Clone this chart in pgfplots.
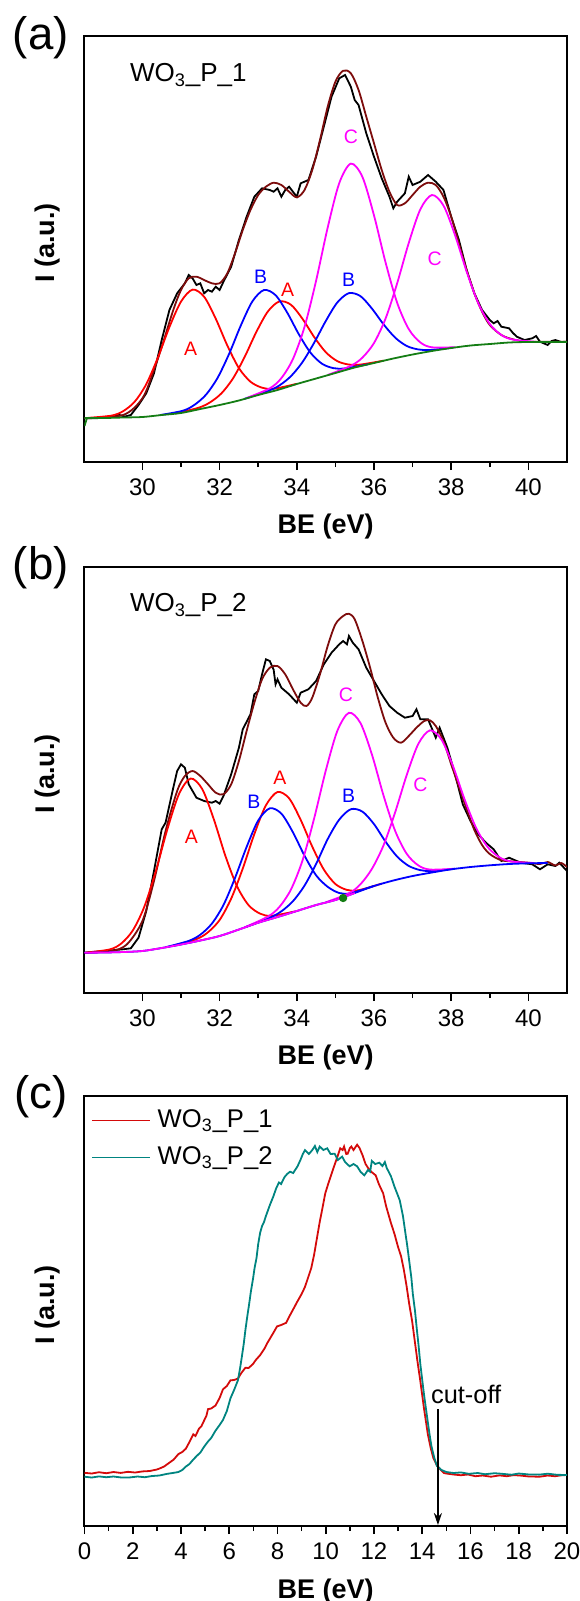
\documentclass[border=0pt]{standalone}
\usepackage{fontspec}
\setmainfont{Liberation Sans}
\usepackage{pgfplots}
\pgfplotsset{compat=1.18}
\usetikzlibrary{arrows.meta}

\definecolor{envBrown}{RGB}{125,12,12}
\definecolor{bgGreen}{RGB}{20,125,20}
\definecolor{pRed}{RGB}{255,0,0}
\definecolor{pBlue}{RGB}{0,0,255}
\definecolor{pMag}{RGB}{255,0,255}
\definecolor{cRed}{RGB}{212,10,10}
\definecolor{cTeal}{RGB}{0,132,128}

\pgfplotsset{
  xpsframe/.style={
    scale only axis, width=241.25pt,
    axis line style={line width=1pt},
    xtick pos=bottom, ytick=\empty,
    tick align=outside,
    major tick length=4pt, minor tick length=2.5pt,
    every tick/.style={black, line width=0.8pt},
    minor x tick num=1,
    /pgf/number format/assume math mode=true,
    xticklabel style={font=\fontsize{12}{14}\selectfont, anchor=center, yshift=-8.5pt},
    xlabel={BE (eV)},
    xlabel style={at={(axis description cs:0.5,-0.152)}, anchor=center,
      font=\fontsize{13.5}{16}\selectfont\bfseries},
    ylabel={I (a.u.)},
    ylabel style={at={(axis description cs:-0.0767,0.514)}, anchor=center,
      font=\fontsize{13.5}{16}\selectfont\bfseries},
    every axis plot/.append style={line width=0.9pt},
  },
}
\tikzset{
  peak/.style={font=\fontsize{9.75}{11}\selectfont, anchor=center, inner sep=0pt},
  tag/.style={font=\fontsize{13}{15}\selectfont, anchor=base west, inner sep=0pt},
}

\begin{document}
\begin{tikzpicture}
\path[use as bounding box] (0pt,0pt) rectangle (289.5pt,-800.5pt);

% ---------------- (a) ----------------
\begin{axis}[xpsframe, height=213pt, at={(42.25pt,-231pt)}, anchor=south west,
  xmin=28.5, xmax=41, ymin=0, ymax=426, xtick={30,32,...,40}]
% measured spectrum
\addplot[black, sharp plot] coordinates {
(28.5,43.7)(29.0,44)(29.4,47)(29.55,45.5)(29.7,47)(29.9,57)(30.1,68.7)(30.3,88.7)
(30.5,122)(30.7,152)(30.9,168.7)(31.1,178.7)(31.2,187)(31.3,183.7)(31.4,177)(31.5,178.7)
(31.6,168.7)(31.7,172)(31.8,170.3)(31.9,175.3)(32.0,172)(32.1,180.3)(32.3,195.3)(32.5,222)
(32.7,245.3)(32.9,265.3)(33.1,273.7)(33.3,272)(33.4,270.3)(33.5,273.7)(33.6,265.3)(33.7,272)
(33.8,275.3)(33.9,270.3)(34.0,265.3)(34.1,278.7)(34.3,282)(34.5,305.3)(34.7,335.3)(34.9,365.3)
(35.1,383.7)(35.25,387)(35.4,375.3)(35.5,362)(35.6,357)(35.8,328.7)(36.0,305.3)(36.2,283.7)
(36.4,265.3)(36.5,253.7)(36.6,260.3)(36.8,268.7)(36.9,285.3)(37.0,277)(37.2,280.3)(37.4,287)
(37.6,280.3)(37.8,272)(38.0,245.3)(38.2,222)(38.4,192)(38.6,168.7)(38.8,152)(39.0,142)
(39.1,138.7)(39.2,141)(39.3,135.3)(39.5,133.7)(39.6,129)(39.7,125.3)(39.9,122)(40.1,123.7)
(40.2,126)(40.3,120.3)(40.5,117)(40.6,121)(40.7,122)(40.85,120)(41.0,120.3)};
% envelope
\addplot[envBrown, smooth] coordinates {
(28.5,43.7)(29.5,47)(30.0,63.7)(30.3,92)(30.5,115)(30.8,152)(31.0,172)(31.2,183.7)
(31.4,185.3)(31.6,182)(31.8,178.7)(32.0,178.7)(32.2,188.7)(32.4,208.7)(32.6,232)(32.8,252)
(33.0,267)(33.2,275.3)(33.4,279.3)(33.6,277)(33.8,270.3)(34.0,264.7)(34.2,272)(34.4,292)
(34.6,322)(34.8,355.3)(35.0,380.3)(35.2,391.3)(35.4,388.7)(35.6,372)(35.8,345.3)(36.0,318.7)
(36.2,292)(36.4,270.3)(36.6,257)(36.8,258.7)(37.0,267)(37.2,275.3)(37.4,279.3)(37.6,277)
(37.8,265.3)(38.0,245.3)(38.2,218.7)(38.4,192)(38.6,168.7)(38.8,150.3)(39.0,137)(39.3,127)
(39.6,122.7)(40.0,120.3)(41.0,120.3)};
% A components
\addplot[pRed, smooth] coordinates {
(28.6,44.2)(29.2,46.4)(29.5,50.8)(29.8,60.3)(30.1,77.8)(30.4,104.3)(30.7,134.9)(31.0,160.4)
(31.3,172.4)(31.6,165.2)(31.9,143.3)(32.2,116.5)(32.5,93.9)(32.8,80.3)(33.1,74.3)(33.4,73.2)(34.0,78.2)};
\addplot[pRed, smooth] coordinates {
(30.85,48.5)(31.45,54.2)(31.75,59.6)(32.05,68.75)(32.35,83.75)(32.65,105.15)(32.95,129.9)(33.25,150.5)
(33.55,160.6)(33.85,157.2)(34.15,143.05)(34.45,125)(34.75,109.85)(35.05,100.85)(35.35,97.45)(35.65,97.45)(36.25,101.35)};
% B components
\addplot[pBlue, smooth] coordinates {
(30.45,46.9)(31.05,51.3)(31.35,57.2)(31.65,67.4)(31.95,84.3)(32.25,108.45)(32.55,136.55)(32.85,160.65)
(33.15,172)(33.45,166.8)(33.75,149.5)(34.05,127.95)(34.35,109.55)(34.65,98.35)(34.95,93.85)(35.25,93.65)(35.85,97.75)};
\addplot[pBlue, smooth] coordinates {
(32.65,63.25)(33.25,70.9)(33.55,76.6)(33.85,85.9)(34.15,100.05)(34.45,119.3)(34.75,140.95)(35.05,159.55)
(35.35,168.85)(35.65,165.85)(35.95,153.25)(36.25,137.55)(36.55,124.3)(36.85,116)(37.15,112.55)(37.45,112.05)(38.05,114.35)};
% C components
\addplot[pMag, smooth] coordinates {
(32.7,64)(33.3,73.7)(33.6,83.9)(33.9,103)(34.2,135.1)(34.5,181.3)(34.8,234.4)(35.1,278.9)
(35.4,298.4)(35.7,285.1)(36.0,246.6)(36.3,199.5)(36.6,159.2)(36.9,132.9)(37.2,119.6)(37.5,114.7)(38.1,114.8)};
\addplot[pMag, smooth] coordinates {
(34.8,87)(35.4,96.2)(35.7,104.4)(36.0,119)(36.3,143.5)(36.6,178.7)(36.9,219)(37.2,252.6)
(37.5,267)(37.8,256.5)(38.1,226.8)(38.4,190.4)(38.7,158.9)(39.0,138)(39.3,127)(39.6,122.4)(40.2,120.2)};
% background
\addplot[bgGreen, smooth] coordinates {
(28.5,44)(29,44)(29.5,44.5)(30,45)(30.5,47)(31,49)(31.5,53)(32,57)(32.5,61.5)(33,67)(33.5,72)
(34,78)(34.5,83.5)(35,89)(35.5,94.5)(36,99)(36.5,103.5)(37,107.5)(37.5,111)(38,114)(38.5,116.5)
(39,118)(39.5,119.5)(40,120)(41,120)};
\addplot[bgGreen, sharp plot] coordinates {(28.5,36)(28.56,43.5)};
\node[tag] at (axis cs:29.67,380.3) {WO\textsubscript{3}\_P\_1};
\node[peak, text=pRed] at (axis cs:31.25,113) {A};
\node[peak, text=pBlue] at (axis cs:33.06,185) {B};
\node[peak, text=pRed] at (axis cs:33.76,172) {A};
\node[peak, text=pBlue] at (axis cs:35.34,182) {B};
\node[peak, text=pMag] at (axis cs:35.4,325.7) {C};
\node[peak, text=pMag] at (axis cs:37.57,203.3) {C};
\end{axis}

% ---------------- (b) ----------------
\begin{axis}[xpsframe, height=213pt, at={(42.25pt,-496.5pt)}, anchor=south west,
  xmin=28.5, xmax=41, ymin=0, ymax=426, xtick={30,32,...,40}]
\addplot[black, sharp plot] coordinates {
(28.5,40.3)(29.5,43.7)(29.7,44.7)(29.9,55.3)(30.1,82)(30.3,122)(30.5,163.7)(30.6,170.3)
(30.8,205.3)(30.9,222)(31.0,228.7)(31.1,225.3)(31.2,208.7)(31.4,195.3)(31.6,192)(31.8,190.3)
(31.9,192)(32.0,189.3)(32.1,197)(32.3,218.7)(32.5,245.3)(32.6,263.7)(32.8,278.7)(32.9,298.7)
(33.0,302)(33.1,318.7)(33.2,333.7)(33.3,332)(33.4,323.3)(33.45,308.7)(33.5,313.7)(33.6,305.3)
(33.8,298.7)(34.0,290.3)(34.1,300.3)(34.3,303.7)(34.5,312)(34.7,328.7)(34.9,340.3)(35.1,348.7)
(35.2,352)(35.3,348.7)(35.35,357)(35.45,350.3)(35.6,343.7)(35.8,325.3)(36.0,312)(36.2,298.7)
(36.4,287)(36.6,280.3)(36.8,275.3)(37.0,277)(37.1,283.7)(37.2,273.7)(37.4,273.7)(37.6,255.3)
(37.7,265.3)(37.9,245.3)(38.1,218.7)(38.3,188.7)(38.5,172)(38.7,158.7)(38.9,150.3)(39.1,143.7)
(39.3,132)(39.5,135.3)(39.8,130.3)(40.1,128.7)(40.3,123.7)(40.5,128.7)(40.7,127)(40.8,130.3)(41.0,122)};
\addplot[envBrown, smooth] coordinates {
(28.5,40.3)(29.2,42)(29.6,48.7)(30.0,72)(30.3,112)(30.6,162)(30.9,202)(31.1,217)
(31.3,222)(31.5,217)(31.7,208.7)(31.9,200.3)(32.1,198.7)(32.3,208.7)(32.5,232)(32.7,262)
(32.9,290.3)(33.1,313.7)(33.3,325.3)(33.5,327)(33.7,318.7)(33.9,303.7)(34.1,290.3)(34.25,287)
(34.4,295.3)(34.6,318.7)(34.8,347)(35.0,368.7)(35.2,377)(35.35,379.3)(35.5,373.7)(35.7,352)
(35.9,325.3)(36.1,295.3)(36.3,270.3)(36.5,255.3)(36.7,250.3)(36.9,257)(37.1,265.3)(37.3,272)
(37.45,272.7)(37.6,267)(37.8,252)(38.0,228.7)(38.2,206)(38.4,184)(38.6,163)(38.8,148)
(39.0,139)(39.3,132.7)(39.7,131.3)(40.0,130.3)(40.3,129)(40.5,131)(40.7,127.5)(40.85,130)(41.0,126)};
\addplot[pRed, smooth] coordinates {
(28.55,40.5)(29.15,43.55)(29.45,49.45)(29.75,62.5)(30.05,86.3)(30.35,122.3)(30.65,164.15)(30.95,199.15)
(31.25,214.5)(31.55,203.95)(31.85,173.75)(32.15,137.15)(32.45,106.85)(32.75,87.9)(33.05,79.35)(33.35,77.2)(33.95,81.6)};
\addplot[pRed, smooth] coordinates {
(30.8,47.3)(31.4,53.9)(31.7,60.8)(32.0,73)(32.3,94.4)(32.6,124.45)(32.9,158.95)(33.2,187.7)
(33.5,201)(33.8,194.7)(34.1,173.2)(34.4,146.4)(34.7,123.5)(35.0,109)(35.3,103.1)(35.6,102.8)(36.2,109.4)};
\addplot[pBlue, smooth] coordinates {
(30.6,45.8)(31.2,52.1)(31.5,58.3)(31.8,69.4)(32.1,88)(32.4,115.1)(32.7,146.1)(33.0,172.5)
(33.3,184.7)(33.6,179.4)(33.9,160.7)(34.2,137.3)(34.5,117.7)(34.8,106.2)(35.1,100)(35.4,99.8)(36.0,107.1)};
\addplot[pBlue, smooth] coordinates {
(32.7,66.3)(33.3,75.2)(33.6,81.7)(33.9,91.8)(34.2,107.4)(34.5,129)(34.8,153.9)(35.1,173.4)
(35.4,183.8)(35.7,181.4)(36.0,168.9)(36.3,151.3)(36.6,136.4)(36.9,127.1)(37.2,122.9)(37.5,122)(38.1,124.3)};
\addplot[pMag, smooth] coordinates {
(32.65,65.7)(33.25,76.4)(33.55,86.1)(33.85,103.6)(34.15,132.8)(34.45,174.7)(34.75,222.3)(35.05,262.1)
(35.35,280.2)(35.65,269.9)(35.95,238)(36.25,197.05)(36.55,161.95)(36.85,139.05)(37.15,127.55)(37.45,123.45)(38.05,124.2)};
\addplot[pMag, smooth] coordinates {
(34.75,90.7)(35.35,99.7)(35.65,108.8)(35.95,124.4)(36.25,147.95)(36.55,180.95)(36.85,218.25)(37.15,249.25)
(37.45,262.65)(37.75,253.3)(38.05,226.55)(38.35,193.3)(38.65,164.7)(38.95,145.75)(39.25,135.75)(39.55,131.55)(40.15,130)};
% background (seen through the component colours)
\addplot[pBlue, smooth] coordinates {
(28.5,40.3)(29,40.5)(29.5,41)(30,42)(30.5,45)(31,48.5)(31.5,52.5)(32,57)(32.5,63.5)(33,70.3)
(33.5,76)(34,82)(34.5,88)(35,93)(35.5,100)(36,107)(36.5,112.5)(37,117)(37.5,120.5)(38,123.7)
(38.5,126)(39,127.7)(39.5,129)(40,129.7)(40.5,130)};
\addplot[pMag, smooth] coordinates {
(28.5,40.3)(29,40.5)(29.5,41)(30,42)(30.5,45)(31,48.5)(31.5,52.5)(32,57)(32.5,63.5)(33,70.3)
(33.5,76)(34,82)(34.5,88)(35,93)(35.5,100)};
\addplot[bgGreen, only marks, mark=*, mark size=1.6pt] coordinates {(35.2,95)};
\node[tag] at (axis cs:29.67,381.3) {WO\textsubscript{3}\_P\_2};
\node[peak, text=pRed] at (axis cs:31.27,156.7) {A};
\node[peak, text=pBlue] at (axis cs:32.89,191.7) {B};
\node[peak, text=pRed] at (axis cs:33.56,215.7) {A};
\node[peak, text=pBlue] at (axis cs:35.34,197.7) {B};
\node[peak, text=pMag] at (axis cs:35.27,298.3) {C};
\node[peak, text=pMag] at (axis cs:37.2,208.3) {C};
\end{axis}

% ---------------- (c) ----------------
\begin{axis}[xpsframe, height=215pt, at={(42.25pt,-763pt)}, anchor=south west,
  xmin=0, xmax=20, ymin=0, ymax=430, xtick={0,2,...,20},
  legend cell align=left,
  legend style={at={(axis description cs:0.0135,0.972)}, anchor=north west,
    draw=none, fill=none, inner sep=0pt, row sep=6.5pt, column sep=3.5pt,
    font=\fontsize{12.8}{15}\selectfont,
    nodes={inner sep=0pt, text height=9.5pt, text depth=2.5pt}},
  legend image code/.code={\draw[#1, line width=0.9pt] (0pt,0pt) -- (28.75pt,0pt);}]
\addplot[cRed, sharp plot] coordinates {
(0,53.2)(0.3,52.5)(0.6,53.8)(0.9,52.8)(1.2,54)(1.5,53.1)(1.8,54.2)(2.1,53.5)(2.4,54.6)(2.7,55)
(3.0,56.5)(3.12,57.6)(3.3,59.5)(3.5,63)(3.7,66.5)(3.89,71.9)(4.05,74)(4.2,77.3)(4.35,84)(4.51,91.7)
(4.6,90)(4.74,97.1)(4.85,100)(4.97,106.1)(5.05,110)(5.12,116.9)(5.25,117.5)(5.43,120.5)(5.6,128)
(5.74,136.7)(5.9,140)(6.05,145.7)(6.2,146)(6.36,147.5)(6.5,153)(6.67,158.3)(6.8,158)(6.98,161.9)
(7.1,166)(7.28,170.9)(7.45,177)(7.59,183.5)(7.8,192)(7.98,199.6)(8.15,201)(8.36,203.2)(8.5,210)
(8.67,217.6)(8.83,224.8)(9.0,232)(9.14,239.2)(9.29,250)(9.4,258)(9.52,271.6)(9.65,290)(9.75,304)
(9.88,320)(9.98,332.7)(10.1,342)(10.22,350.7)(10.35,360)(10.45,366.9)(10.6,377.7)(10.7,376)
(10.76,379.5)(10.85,372)(10.91,372.3)(11.0,378)(11.06,379.5)(11.15,376)(11.3,381.3)(11.4,378)
(11.53,370.5)(11.65,362)(11.76,357.9)(11.9,354)(12.07,350.7)(12.2,342)(12.38,332.7)(12.5,320)
(12.69,304)(12.85,292)(13.0,278.8)(13.12,270)(13.23,257.2)(13.35,240)(13.46,222)(13.58,205)
(13.69,185)(13.8,165)(13.92,145)(14.07,118)(14.23,92)(14.35,78)(14.46,68)(14.6,61)(14.75,56.5)
(14.9,53)(15.0,52.5)(15.3,51.5)(15.6,50.8)(15.9,51.5)(16.2,49.8)(16.5,50.5)(16.85,49.3)(17.2,50.6)
(17.5,49.8)(17.8,50.9)(18.09,50.4)(18.4,49.6)(18.86,49.3)(19.2,50.5)(19.5,49.8)(19.8,50.8)(20,51)};
\addlegendentry{WO\textsubscript{3}\_P\_1}
\addplot[cTeal, sharp plot] coordinates {
(0,49.3)(0.3,48.5)(0.6,49.6)(0.9,48.8)(1.2,49.5)(1.5,48.6)(1.88,48.6)(2.2,49.5)(2.5,48.8)(2.8,50)
(3.1,50.5)(3.43,52.2)(3.65,53)(3.89,54)(4.05,56)(4.2,59.4)(4.35,62)(4.51,66.5)(4.65,70)(4.81,73.7)
(4.95,79)(5.12,84.5)(5.25,88)(5.43,95.3)(5.6,101)(5.74,106.1)(5.9,115)(6.05,127.7)(6.2,136)
(6.36,145.7)(6.45,158)(6.51,167.3)(6.6,182)(6.67,196)(6.75,210)(6.82,221.2)(6.9,235)(6.98,246.4)
(7.05,258)(7.13,268)(7.2,282)(7.28,293.2)(7.36,300)(7.44,304)(7.52,310)(7.59,314.7)(7.7,322)
(7.82,329.1)(7.95,338)(8.06,343.5)(8.15,342)(8.29,348.9)(8.4,352)(8.52,354.3)(8.65,353)(8.83,359.7)
(8.95,366)(9.05,372)(9.14,375.9)(9.3,372)(9.44,375.9)(9.55,380)(9.65,374)(9.75,379.5)(9.9,376)
(10.06,377.7)(10.2,372)(10.37,372.3)(10.5,366)(10.68,369.4)(10.8,364)(10.99,359.7)(11.15,362)
(11.3,359.7)(11.45,354)(11.6,350.7)(11.75,356)(11.84,354.3)(11.91,365.1)(12.05,362)(12.22,363.3)
(12.35,360)(12.45,364)(12.53,357.9)(12.7,350)(12.84,339.9)(13.0,330)(13.07,325.5)(13.2,310)
(13.3,293.2)(13.38,280)(13.46,265)(13.55,248)(13.61,232)(13.7,215)(13.77,198)(13.85,180)
(13.92,162)(14.0,146)(14.07,132)(14.15,118)(14.23,104)(14.3,92)(14.38,80)(14.5,68)(14.61,60)
(14.8,56)(15.0,54)(15.3,53)(15.6,53.6)(15.93,52.2)(16.3,53)(16.6,51.8)(17.0,52.8)(17.31,52.2)
(17.7,51.3)(18.0,52.5)(18.4,51.6)(18.86,51.4)(19.2,52.3)(19.6,51.2)(20,51)};
\addlegendentry{WO\textsubscript{3}\_P\_2}
% cut-off marker
\addplot[black, line width=1pt, -{Stealth[length=6pt,width=4pt]}, forget plot] coordinates {(14.65,117)(14.65,1)};
\node[tag, font=\fontsize{12.7}{15}\selectfont] at (axis cs:14.35,123) {cut-off};
\end{axis}

\node[font=\fontsize{22.8}{26}\selectfont, inner sep=0pt] at (20.4pt,-18.75pt) {(a)};
\node[font=\fontsize{22.8}{26}\selectfont, inner sep=0pt] at (20.4pt,-284pt) {(b)};
\node[font=\fontsize{22.8}{26}\selectfont, inner sep=0pt] at (20.4pt,-548.5pt) {(c)};
\end{tikzpicture}
\end{document}
